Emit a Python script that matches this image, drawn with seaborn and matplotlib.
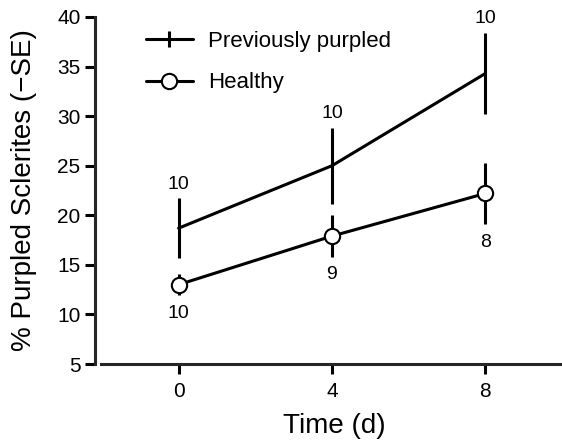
import numpy as np
import pandas as pd
import matplotlib.pyplot as plt
import seaborn as sns
from matplotlib.lines import Line2D

days = [0, 4, 8]
purpled_mean = [18.7, 25.0, 34.3]
purpled_se = [3.05, 3.85, 4.1]
purpled_n = ['10', '10', '10']
healthy_mean = [13.0, 17.9, 22.2]
healthy_se = [1.05, 2.08, 3.1]
healthy_n = ['10', '9', '8']

purpled = pd.DataFrame({'Time': days, 'Pct': purpled_mean})
healthy = pd.DataFrame({'Time': days, 'Pct': healthy_mean})

sns.set_style('ticks')
plt.rcParams['font.family'] = ['Liberation Sans', 'DejaVu Sans']
plt.rcParams['text.color'] = 'black'
plt.rcParams['axes.labelcolor'] = 'black'

fig = plt.figure(figsize=(5.62, 4.44), dpi=100)
ax = fig.add_axes([95 / 562, 80 / 444, 467 / 562, 347 / 444])

lw = 2.2
sns.lineplot(data=purpled, x='Time', y='Pct', color='black', linewidth=lw,
             ax=ax, zorder=3)
sns.lineplot(data=healthy, x='Time', y='Pct', color='black', linewidth=lw,
             marker='o', markersize=11, markerfacecolor='white',
             markeredgecolor='black', markeredgewidth=1.5, ax=ax, zorder=3)

ax.errorbar(days, purpled_mean, yerr=purpled_se, fmt='none', ecolor='black',
            elinewidth=lw, capsize=0, zorder=2)
ax.errorbar(days, healthy_mean, yerr=healthy_se, fmt='none', ecolor='black',
            elinewidth=lw, capsize=0, zorder=2)

# sample sizes
for x, m, s, n in zip(days, purpled_mean, purpled_se, purpled_n):
    ax.annotate(n, (x, m + s), xytext=(0, 10), textcoords='offset points',
                ha='center', va='center', fontsize=14)
for x, m, s, n in zip(days, healthy_mean, healthy_se, healthy_n):
    ax.annotate(n, (x, m - s), xytext=(0, -13), textcoords='offset points',
                ha='center', va='center', fontsize=14)

ax.set_xlim(-2.18, 10)
ax.set_ylim(5, 40)
ax.set_xticks(days)
ax.set_yticks(np.arange(5, 41, 5))
ax.spines['top'].set_visible(False)
ax.spines['right'].set_visible(False)
ax.spines['bottom'].set_bounds(-2.03, 10)
for sp in ['left', 'bottom']:
    ax.spines[sp].set_linewidth(lw)
ax.tick_params(width=lw, length=7, labelsize=15, color='black', labelcolor='black')
ax.tick_params(axis='x', pad=6)

ax.set_xlabel('Time (d)', fontsize=20)
ax.set_ylabel('% Purpled Sclerites (\u2212SE)', fontsize=20)
ax.xaxis.set_label_coords(0.512, -0.142)
ax.yaxis.set_label_coords(-0.124, 0.5)

handles = [
    Line2D([], [], color='black', lw=lw, marker='|', markersize=12, markeredgewidth=lw),
    Line2D([], [], color='black', lw=lw, marker='o', markersize=11,
           markerfacecolor='white', markeredgewidth=1.5),
]
ax.legend(handles, ['Previously purpled', 'Healthy'], loc='upper left',
          bbox_to_anchor=(0.109, 0.96), frameon=False, fontsize=16,
          handlelength=2.1, handletextpad=0.7, labelspacing=0.92,
          borderpad=0, borderaxespad=0)

fig.savefig('out.png', dpi=100)
